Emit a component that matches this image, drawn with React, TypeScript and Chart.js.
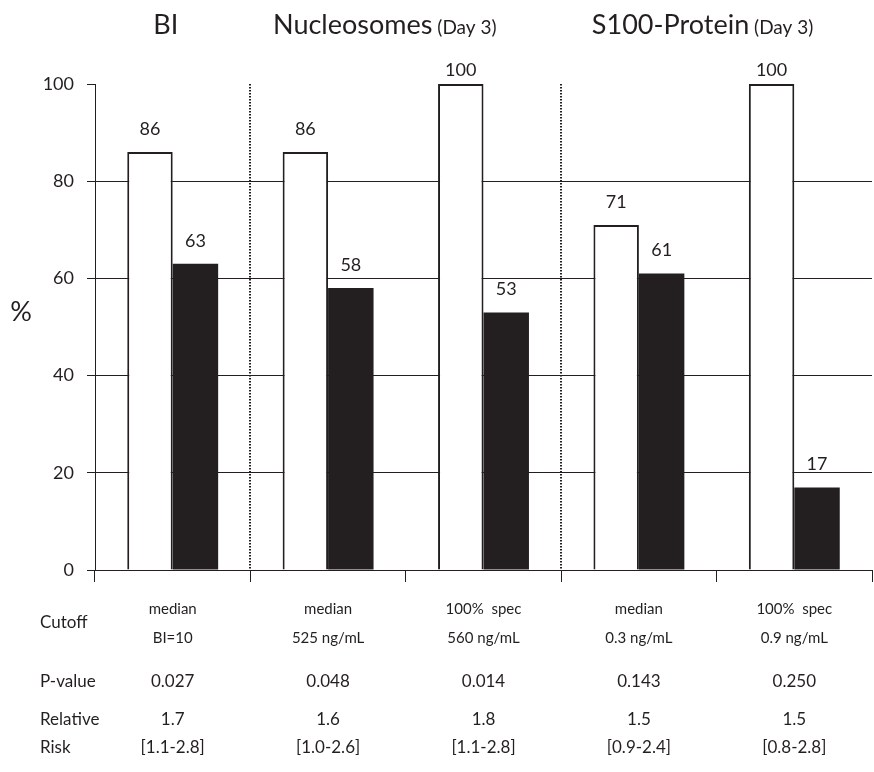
import React, { useEffect, useRef } from 'react';
import { Chart, registerables } from 'chart.js';

Chart.register(...registerables);

const categories = ['BI median', 'Nucleosomes median', 'Nucleosomes 100% spec', 'S100 median', 'S100 100% spec'];
const whiteBars = [86, 86, 100, 71, 100];
const blackBars = [63, 58, 53, 61, 17];
const yMin = 0;
const yMax = 100;
const yStep = 20;

const groupMain = ['BI', 'Nucleosomes', 'S100-Protein'];
const groupSub = ['', '(Day 3)', '(Day 3)'];
const groupFirst = [0, 1, 3];
const groupLast = [0, 2, 4];
const separatorAfter = [0, 2];

const cutoffLine1 = ['median', 'median', '100%  spec', 'median', '100%  spec'];
const cutoffLine2 = ['BI=10', '525 ng/mL', '560 ng/mL', '0.3 ng/mL', '0.9 ng/mL'];
const pValues = ['0.027', '0.048', '0.014', '0.143', '0.250'];
const rrValues = ['1.7', '1.6', '1.8', '1.5', '1.5'];
const rrCI = ['[1.1-2.8]', '[1.0-2.6]', '[1.1-2.8]', '[0.9-2.4]', '[0.8-2.8]'];
const rowCutoff = 'Cutoff';
const rowP = 'P-value';
const rowRR1 = 'Relative';
const rowRR2 = 'Risk';
const yTitle = '%';

const INK = '#231f20';
const FONT = "Lato, 'Open Sans', sans-serif";

const overlayPlugin = {
  id: 'overlay',
  beforeDatasetsDraw(chart: any) {
    const ctx = chart.ctx;
    const x = chart.scales.x;
    const area = chart.chartArea;
    ctx.save();
    ctx.strokeStyle = INK;
    ctx.lineWidth = 2;
    ctx.setLineDash([1.5, 1.5]);
    separatorAfter.forEach((i) => {
      const px = Math.round((x.getPixelForValue(i) + x.getPixelForValue(i + 1)) / 2);
      ctx.beginPath();
      ctx.moveTo(px, area.top);
      ctx.lineTo(px, area.bottom);
      ctx.stroke();
    });
    ctx.restore();
  },
  afterDatasetsDraw(chart: any) {
    const ctx = chart.ctx;
    ctx.save();
    ctx.fillStyle = INK;
    ctx.font = `18px ${FONT}`;
    ctx.textAlign = 'center';
    ctx.textBaseline = 'middle';
    chart.data.datasets.forEach((ds: any, di: number) => {
      const meta = chart.getDatasetMeta(di);
      meta.data.forEach((el: any, i: number) => {
        const v = ds.data[i];
        const off = v >= 100 ? 14 : 23;
        ctx.fillText(String(v), el.x, el.y - off);
      });
    });
    ctx.restore();
  },
  afterDraw(chart: any) {
    const ctx = chart.ctx;
    const x = chart.scales.x;
    const y = chart.scales.y;
    ctx.save();
    ctx.fillStyle = INK;

    // group titles
    ctx.textBaseline = 'alphabetic';
    const shifts = [-7, -21, -14];
    groupMain.forEach((m, g) => {
      const cx = (x.getPixelForValue(groupFirst[g]) + x.getPixelForValue(groupLast[g])) / 2 + shifts[g];
      ctx.font = `27px ${FONT}`;
      const w1 = ctx.measureText(m).width;
      ctx.font = `19px ${FONT}`;
      const sub = groupSub[g] ? ' ' + groupSub[g] : '';
      const w2 = sub ? ctx.measureText(sub).width : 0;
      const start = cx - (w1 + w2) / 2;
      ctx.textAlign = 'left';
      ctx.font = `27px ${FONT}`;
      ctx.fillText(m, start, 34);
      if (sub) {
        ctx.font = `19px ${FONT}`;
        ctx.fillText(sub, start + w1, 34);
      }
    });

    ctx.textBaseline = 'middle';
    // y title
    ctx.textAlign = 'center';
    ctx.font = `27px ${FONT}`;
    ctx.fillText(yTitle, 21, y.getPixelForValue(53));

    // table row labels
    ctx.textAlign = 'left';
    ctx.font = `17px ${FONT}`;
    ctx.fillText(rowCutoff, 40, 623);
    ctx.fillText(rowP, 40, 682);
    ctx.fillText(rowRR1, 40, 720);
    ctx.fillText(rowRR2, 40, 748);

    ctx.textAlign = 'center';
    categories.forEach((_, i) => {
      const cx = x.getPixelForValue(i);
      ctx.font = `15px ${FONT}`;
      ctx.fillText(cutoffLine1[i], cx, 609);
      ctx.fillText(cutoffLine2[i], cx, 638);
      ctx.font = `17px ${FONT}`;
      ctx.fillText(pValues[i], cx, 682);
      ctx.fillText(rrValues[i], cx, 720);
      ctx.fillText(rrCI[i], cx, 748);
    });
    ctx.restore();
  },
};

export default function App() {
  const ref = useRef<HTMLCanvasElement | null>(null);

  useEffect(() => {
    if (!ref.current) return;
    const chart = new Chart(ref.current, {
      type: 'bar',
      data: {
        labels: categories,
        datasets: [
          {
            label: 'white',
            data: whiteBars,
            backgroundColor: '#ffffff',
            borderColor: INK,
            borderWidth: 2,
            borderSkipped: 'start',
          },
          {
            label: 'black',
            data: blackBars,
            backgroundColor: INK,
            borderWidth: 0,
          },
        ],
      },
      options: {
        animation: false,
        responsive: true,
        maintainAspectRatio: false,
        datasets: { bar: { categoryPercentage: 0.585, barPercentage: 1 } },
        layout: { padding: { top: 84, right: 2, left: 0, bottom: 0 } },
        plugins: { legend: { display: false }, tooltip: { enabled: false }, title: { display: false } },
        scales: {
          x: {
            type: 'category',
            offset: true,
            grid: {
              offset: true,
              drawOnChartArea: false,
              drawTicks: true,
              tickLength: 12,
              color: INK,
              lineWidth: 1,
            },
            border: { display: true, color: INK, width: 1 },
            ticks: { display: false },
            afterFit: (s: any) => {
              s.height = 202;
            },
          },
          y: {
            min: yMin,
            max: yMax,
            ticks: {
              stepSize: yStep,
              color: INK,
              font: { family: FONT, size: 18 },
              padding: 13,
            },
            grid: {
              color: (c: any) => (c.tick && c.tick.value === yMax ? 'rgba(0,0,0,0)' : INK),
              tickColor: INK,
              tickLength: 8,
              lineWidth: 1,
            },
            border: { display: true, color: INK, width: 1 },
            afterFit: (s: any) => {
              s.width = 95;
            },
          },
        },
      },
      plugins: [overlayPlugin],
    });
    return () => chart.destroy();
  }, []);

  return (
    <div style={{ position: 'absolute', left: 0, top: 0, width: 874, height: 772, background: '#fff' }}>
      <canvas ref={ref} />
    </div>
  );
}
